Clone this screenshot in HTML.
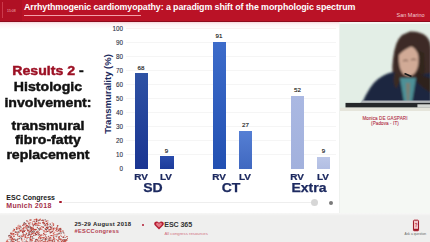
<!DOCTYPE html>
<html><head><meta charset="utf-8">
<style>
*{margin:0;padding:0;box-sizing:border-box}
html,body{width:430px;height:242px;overflow:hidden;background:#fff;font-family:"Liberation Sans",sans-serif}
.a{position:absolute;white-space:nowrap}
#hdr{position:absolute;left:0;top:0;width:430px;height:22px;background:#ba1226}
#hdrbot{position:absolute;left:0;top:20.5px;width:430px;height:1.5px;background:#8e0a1c}
#tbox{position:absolute;left:0;top:0;width:22px;height:20.5px;background:#b01024}
#title{left:24px;top:2px;font-size:8.9px;font-weight:bold;color:#fff;letter-spacing:-0.1px}
#uline{position:absolute;left:24px;top:15.4px;width:117px;height:1px;background:#f2a0a8}
#sm{left:396.5px;top:11.8px;font-size:5.5px;color:#f3cdd1}
#right{position:absolute;left:339px;top:22px;width:91px;height:191px;background:#f5f8f4;border-left:1px solid #eef1ee}
#bottom{position:absolute;left:0;top:212.5px;width:430px;height:29.5px;background:linear-gradient(#f7f7f6,#efefee 3px)}
.tl{-webkit-text-stroke:0.45px currentColor;font-size:13px;line-height:13px;transform:scaleX(1.086);transform-origin:48.4px 0;font-weight:bold;color:#111;text-align:center;width:96px;left:0}
.tick{font-size:6.3px;color:#2a2f45;-webkit-text-stroke:0.1px #2a2f45;text-align:right;width:20px;left:103px}
.grid{position:absolute;left:126px;width:210px;height:1px;background:#f5f5f5}
.bar{position:absolute}
.vl{font-size:6.2px;color:#222;-webkit-text-stroke:0.15px #222;text-align:center;width:20px}
.cat{font-size:8.7px;line-height:10px;font-weight:bold;color:#1d2a60;text-align:center;width:24px;transform:scaleX(1.15);-webkit-text-stroke:0.2px currentColor}
.grp{font-size:12.4px;line-height:14px;font-weight:bold;color:#1d2a60;text-align:center;width:50px;transform:scaleX(1.13);-webkit-text-stroke:0.25px currentColor}
</style></head><body>
<div class="a" style="left:0;top:22px;width:340px;height:7px;background:linear-gradient(#f6d6da,#fdf1f3 2px,rgba(255,255,255,0))"></div><div id="hdr"></div><div id="hdrbot"></div><div id="tbox"></div>
<div class="a" style="left:2px;top:2px;width:1px;height:16px;background:#cc3a4c"></div>
<div class="a" style="left:7px;top:9px;font-size:3.5px;color:#f1b5bc">15:08</div>
<div class="a" id="title">Arrhythmogenic cardiomyopathy: a paradigm shift of the morphologic spectrum</div>
<div id="uline"></div>
<div class="a" id="sm">San Marino</div>

<div id="right"></div>
<div id="bottom"></div>

<!-- left text -->
<div class="a tl" style="top:64px"><span style="color:#9c1024">Results 2</span> -</div>
<div class="a tl" style="top:80px">Histologic</div>
<div class="a tl" style="top:96px">involvement:</div>
<div class="a tl" style="top:118.5px">transmural</div>
<div class="a tl" style="top:133px">fibro-fatty</div>
<div class="a tl" style="top:147.5px">replacement</div>

<!-- chart -->
<div class="grid" style="top:28px;background:#fbf0f1"></div>
<div class="grid" style="top:42px"></div>
<div class="grid" style="top:56px"></div>
<div class="grid" style="top:70px"></div>
<div class="grid" style="top:84px"></div>
<div class="grid" style="top:98px"></div>
<div class="grid" style="top:112px"></div>
<div class="grid" style="top:126px"></div>
<div class="grid" style="top:140px"></div>
<div class="grid" style="top:154px"></div>
<div class="a tick" style="top:25.0px">100</div>
<div class="a tick" style="top:39.0px">90</div>
<div class="a tick" style="top:53.0px">80</div>
<div class="a tick" style="top:67.0px">70</div>
<div class="a tick" style="top:81.0px">60</div>
<div class="a tick" style="top:95.0px">50</div>
<div class="a tick" style="top:109.0px">40</div>
<div class="a tick" style="top:123.0px">30</div>
<div class="a tick" style="top:137.0px">20</div>
<div class="a tick" style="top:151.0px">10</div>
<div class="a tick" style="top:165.0px">0</div>
<div class="a" style="left:106.6px;top:94.3px;transform:translate(-50%,-50%) rotate(-90deg);font-size:9.5px;font-weight:bold;color:#1b2a5c">Transmurality (%)</div>

<div class="bar" style="left:135px;top:73.4px;width:13px;height:95.2px;background:linear-gradient(#2e52a4,#1a3592)"></div>
<div class="bar" style="left:160px;top:156px;width:13.5px;height:12.6px;background:linear-gradient(#2a4cac,#1c3b9a)"></div>
<div class="bar" style="left:213px;top:41.8px;width:13px;height:126.8px;background:linear-gradient(#3d6cca,#2250b2)"></div>
<div class="bar" style="left:239px;top:130.8px;width:13px;height:37.8px;background:linear-gradient(#557fd4,#4068c0)"></div>
<div class="bar" style="left:291px;top:95.8px;width:13px;height:72.8px;background:linear-gradient(#aab8e2,#a2b1dd)"></div>
<div class="bar" style="left:317px;top:156.8px;width:13.3px;height:11.8px;background:linear-gradient(#bcc7e8,#b2bee3)"></div>

<div class="a vl" style="left:131px;top:63.5px">68</div>
<div class="a vl" style="left:156.5px;top:146.5px">9</div>
<div class="a vl" style="left:209px;top:31.5px">91</div>
<div class="a vl" style="left:235.5px;top:120.5px">27</div>
<div class="a vl" style="left:287.5px;top:86px">52</div>
<div class="a vl" style="left:313.5px;top:147px">9</div>

<div class="a cat" style="left:129px;top:171.6px">RV</div>
<div class="a cat" style="left:154px;top:171.6px">LV</div>
<div class="a cat" style="left:207px;top:171.6px">RV</div>
<div class="a cat" style="left:233px;top:171.6px">LV</div>
<div class="a cat" style="left:285px;top:171.6px">RV</div>
<div class="a cat" style="left:311px;top:171.6px">LV</div>
<div class="a grp" style="left:127.5px;top:180.8px">SD</div>
<div class="a grp" style="left:206px;top:180.8px">CT</div>
<div class="a grp" style="left:284px;top:180.8px">Extra</div>

<!-- footer of slide -->
<div class="a" style="left:6.3px;top:194.2px;font-size:7px;font-weight:bold;color:#1a1a1a">ESC Congress</div>
<div class="a" style="left:6.3px;top:201.5px;font-size:7px;letter-spacing:0.3px;font-weight:bold;color:#a5304a">Munich 2018</div>
<div class="a" style="left:59.3px;top:200.9px;width:2.5px;height:2.5px;border-radius:50%;background:#a8182c"></div>
<div class="a" style="left:63px;top:202px;width:248px;height:1.3px;background:#eeeeee"></div>
<div class="a" style="left:311px;top:199px;width:7px;height:7px;border-radius:50%;background:#d6d6d6"></div>
<div class="a" style="left:328.5px;top:200.6px;width:4.4px;height:4.4px;border-radius:50%;background:#7a7a7a"></div>

<!-- speaker video -->
<svg class="a" style="left:340px;top:23px" width="90" height="88" viewBox="0 0 90 88">
<defs><filter id="bl" x="-20%" y="-20%" width="140%" height="140%"><feGaussianBlur stdDeviation="0.8"/></filter></defs>
<rect width="90" height="88" fill="#e3eee6"/>
<rect x="0" y="0" width="90" height="1" fill="#f3f5f2"/>
<g filter="url(#bl)">
<path d="M70 8.5 Q80 8 86 13 Q91 18 91 26 L91 80 L60 80 Q57 70 55 62 Q51 50 53 36 Q55 18 62 12 Z" fill="#3d2c25"/>
<path d="M59 30 Q61 23 69 23 Q77 24 78.5 34 Q79 46 74 51 Q69 55 63 51 Q58 45 59 30 Z" fill="#d1aa96"/>
<path d="M63 38 Q66 36 68 38 M71 37 Q74 35 76 37" stroke="#5a3a30" stroke-width="1" fill="none"/>
<path d="M57 22 Q65 12 80 15 Q77 20 70 24 Q63 27 58 33 Z" fill="#3d2c25"/>
<path d="M76 26 Q80 30 80 40 Q80 50 76 56 L84 60 Q86 45 84 30 Z" fill="#33251f"/>
<path d="M22 80 Q30 62 38 56 Q46 50 54 49 L60 55 L77 55 Q84 50 91 50 L91 80 Z" fill="#1e2840"/>
<path d="M55 49 Q52 58 56 66 L61 56 Z" fill="#3a2a24"/>
<path d="M60 55 L76 55 L72 79 L64 79 Z" fill="#4e9096"/>
<path d="M66 60 L70 60 L69 78 L67 78 Z" fill="#b0704e" opacity="0.5"/>
<path d="M77 48 Q84 54 91 55 L91 70 Q82 65 76 58 Z" fill="#2e231f"/>
</g>
<path d="M64.5 50.5 L71.5 53.5" stroke="#1a1a1a" stroke-width="1.8"/>
<path d="M20 79.9 L23 77.6 L90 77.6 L90 79.9 Z" fill="#b0b4b7"/>
<rect x="5.5" y="79.9" width="84.5" height="4.7" fill="#25282a"/>
<rect x="77.4" y="81.3" width="12.6" height="3.3" fill="#d3d6d2"/>
<rect x="0" y="84.6" width="90" height="3.4" fill="#e5e5db"/>
</svg>
<div class="a" style="left:340px;top:115.6px;width:90px;text-align:center;font-size:4.55px;letter-spacing:0.1px;color:#b33248;-webkit-text-stroke:0.1px #b33248">Monica DE GASPARI</div>
<div class="a" style="left:340px;top:120.6px;width:90px;text-align:center;font-size:4.55px;letter-spacing:0.1px;color:#b33248;-webkit-text-stroke:0.1px #b33248">(Padova - IT)</div>

<!-- bottom band -->
<svg class="a" style="left:0;top:213px" width="80" height="29" viewBox="0 213 80 29"><rect x="33.9" y="229.2" width="1.5" height="1.0" fill="#9a3030"/><rect x="37.8" y="231.3" width="1.0" height="0.8" fill="#d65a4c"/><rect x="13.4" y="228.6" width="0.8" height="1.0" fill="#7d6868"/><rect x="47.2" y="230.9" width="1.0" height="0.8" fill="#e08a80"/><rect x="62.1" y="230.4" width="1.5" height="1.0" fill="#d65a4c"/><rect x="59.6" y="228.1" width="1.2" height="1.0" fill="#c23a2e"/><rect x="30.8" y="229.0" width="0.8" height="1.0" fill="#d65a4c"/><rect x="8.6" y="235.2" width="1.5" height="0.8" fill="#7d6868"/><rect x="29.5" y="240.8" width="0.8" height="0.8" fill="#c23a2e"/><rect x="40.9" y="226.0" width="1.0" height="0.8" fill="#d65a4c"/><rect x="29.3" y="224.5" width="1.0" height="0.8" fill="#c23a2e"/><rect x="24.1" y="238.7" width="1.0" height="0.8" fill="#d65a4c"/><rect x="60.4" y="231.6" width="0.8" height="0.8" fill="#7d6868"/><rect x="20.0" y="230.4" width="1.2" height="1.0" fill="#c23a2e"/><rect x="42.8" y="237.1" width="1.0" height="1.0" fill="#c23a2e"/><rect x="14.2" y="239.3" width="1.0" height="0.8" fill="#c23a2e"/><rect x="45.5" y="229.1" width="1.5" height="1.0" fill="#9a3030"/><rect x="6.6" y="240.9" width="1.0" height="1.0" fill="#c23a2e"/><rect x="58.4" y="230.3" width="1.2" height="0.8" fill="#7d6868"/><rect x="35.6" y="232.0" width="0.8" height="1.0" fill="#c23a2e"/><rect x="64.4" y="234.7" width="0.8" height="1.0" fill="#d65a4c"/><rect x="22.6" y="228.4" width="1.0" height="0.8" fill="#d65a4c"/><rect x="62.8" y="241.4" width="1.0" height="0.8" fill="#7d6868"/><rect x="35.3" y="223.4" width="1.2" height="0.8" fill="#c23a2e"/><rect x="46.0" y="227.0" width="1.2" height="1.0" fill="#c23a2e"/><rect x="12.5" y="240.9" width="1.2" height="1.0" fill="#c23a2e"/><rect x="60.6" y="240.4" width="0.8" height="1.0" fill="#9a3030"/><rect x="45.2" y="224.1" width="0.8" height="0.8" fill="#c23a2e"/><rect x="46.2" y="241.8" width="1.5" height="1.0" fill="#d65a4c"/><rect x="52.5" y="229.8" width="1.5" height="1.0" fill="#e08a80"/><rect x="9.5" y="234.8" width="0.8" height="1.0" fill="#9a3030"/><rect x="35.7" y="219.7" width="0.8" height="1.0" fill="#e08a80"/><rect x="47.6" y="227.1" width="0.8" height="1.0" fill="#c23a2e"/><rect x="15.2" y="239.3" width="1.5" height="1.0" fill="#7d6868"/><rect x="25.6" y="232.3" width="1.0" height="1.0" fill="#e08a80"/><rect x="8.2" y="241.4" width="1.0" height="0.8" fill="#d65a4c"/><rect x="31.3" y="231.1" width="1.5" height="1.0" fill="#e08a80"/><rect x="59.6" y="231.1" width="1.2" height="0.8" fill="#e08a80"/><rect x="22.4" y="230.6" width="1.2" height="1.0" fill="#d65a4c"/><rect x="33.5" y="231.3" width="1.2" height="0.8" fill="#9a3030"/><rect x="17.2" y="226.8" width="1.0" height="0.8" fill="#e08a80"/><rect x="18.9" y="235.6" width="1.0" height="1.0" fill="#7d6868"/><rect x="31.1" y="238.9" width="1.5" height="0.8" fill="#d65a4c"/><rect x="17.0" y="238.7" width="0.8" height="1.0" fill="#9a3030"/><rect x="47.1" y="227.6" width="1.2" height="1.0" fill="#d65a4c"/><rect x="61.2" y="236.2" width="0.8" height="0.8" fill="#c23a2e"/><rect x="24.5" y="241.3" width="1.2" height="1.0" fill="#7d6868"/><rect x="40.3" y="235.3" width="1.5" height="0.8" fill="#c23a2e"/><rect x="49.3" y="239.6" width="1.5" height="0.8" fill="#7d6868"/><rect x="48.7" y="225.8" width="1.5" height="0.8" fill="#e08a80"/><rect x="33.0" y="229.2" width="1.0" height="1.0" fill="#d65a4c"/><rect x="29.2" y="237.5" width="1.0" height="1.0" fill="#7d6868"/><rect x="39.4" y="227.6" width="1.5" height="0.8" fill="#9a3030"/><rect x="6.9" y="239.6" width="0.8" height="1.0" fill="#c23a2e"/><rect x="15.0" y="240.0" width="1.5" height="1.0" fill="#7d6868"/><rect x="20.3" y="227.3" width="1.2" height="1.0" fill="#7d6868"/><rect x="65.8" y="239.7" width="1.2" height="0.8" fill="#c23a2e"/><rect x="44.8" y="239.8" width="1.0" height="0.8" fill="#c23a2e"/><rect x="22.7" y="234.0" width="1.0" height="1.0" fill="#c23a2e"/><rect x="37.7" y="220.3" width="1.0" height="1.0" fill="#c23a2e"/><rect x="45.8" y="236.9" width="1.0" height="0.8" fill="#7d6868"/><rect x="39.2" y="219.3" width="1.0" height="0.8" fill="#c23a2e"/><rect x="52.9" y="236.5" width="1.0" height="1.0" fill="#9a3030"/><rect x="10.4" y="238.8" width="1.0" height="0.8" fill="#c23a2e"/><rect x="10.4" y="237.1" width="1.5" height="0.8" fill="#c23a2e"/><rect x="45.4" y="236.2" width="0.8" height="0.8" fill="#9a3030"/><rect x="27.6" y="236.8" width="1.2" height="0.8" fill="#e08a80"/><rect x="45.9" y="223.0" width="1.0" height="0.8" fill="#9a3030"/><rect x="44.5" y="239.2" width="1.5" height="0.8" fill="#c23a2e"/><rect x="48.4" y="229.8" width="1.0" height="1.0" fill="#c23a2e"/><rect x="32.1" y="223.3" width="1.0" height="1.0" fill="#c23a2e"/><rect x="50.3" y="237.5" width="1.0" height="1.0" fill="#d65a4c"/><rect x="52.8" y="224.8" width="1.0" height="0.8" fill="#c23a2e"/><rect x="9.6" y="237.4" width="1.5" height="0.8" fill="#9a3030"/><rect x="21.0" y="239.4" width="1.0" height="1.0" fill="#c23a2e"/><rect x="25.8" y="228.6" width="1.2" height="1.0" fill="#e08a80"/><rect x="30.8" y="234.0" width="0.8" height="1.0" fill="#c23a2e"/><rect x="10.7" y="238.8" width="0.8" height="0.8" fill="#c23a2e"/><rect x="18.3" y="224.8" width="1.0" height="0.8" fill="#d65a4c"/><rect x="50.3" y="235.1" width="0.8" height="0.8" fill="#9a3030"/><rect x="37.5" y="241.0" width="0.8" height="1.0" fill="#e08a80"/><rect x="36.7" y="230.7" width="0.8" height="1.0" fill="#7d6868"/><rect x="31.8" y="228.3" width="1.2" height="1.0" fill="#9a3030"/><rect x="35.9" y="220.8" width="1.2" height="1.0" fill="#c23a2e"/><rect x="55.0" y="230.0" width="1.0" height="1.0" fill="#e08a80"/><rect x="29.7" y="239.0" width="1.5" height="0.8" fill="#9a3030"/><rect x="51.7" y="222.3" width="1.0" height="1.0" fill="#e08a80"/><rect x="20.6" y="234.9" width="0.8" height="0.8" fill="#7d6868"/><rect x="51.7" y="226.6" width="1.0" height="0.8" fill="#c23a2e"/><rect x="43.7" y="231.5" width="1.5" height="1.0" fill="#e08a80"/><rect x="39.0" y="241.9" width="1.2" height="0.8" fill="#c23a2e"/><rect x="11.5" y="238.9" width="1.2" height="1.0" fill="#c23a2e"/><rect x="49.2" y="229.4" width="1.0" height="1.0" fill="#e08a80"/><rect x="32.1" y="231.1" width="0.8" height="0.8" fill="#9a3030"/><rect x="48.6" y="229.0" width="1.2" height="1.0" fill="#9a3030"/><rect x="53.2" y="237.3" width="0.8" height="0.8" fill="#d65a4c"/><rect x="58.3" y="237.3" width="1.0" height="1.0" fill="#d65a4c"/><rect x="21.0" y="236.5" width="1.2" height="0.8" fill="#9a3030"/><rect x="40.2" y="234.6" width="1.0" height="1.0" fill="#9a3030"/><rect x="42.3" y="226.4" width="1.2" height="0.8" fill="#9a3030"/><rect x="32.5" y="229.5" width="1.5" height="1.0" fill="#e08a80"/><rect x="49.9" y="227.3" width="1.2" height="1.0" fill="#7d6868"/><rect x="18.4" y="232.1" width="1.2" height="1.0" fill="#7d6868"/><rect x="25.3" y="225.8" width="1.2" height="1.0" fill="#9a3030"/><rect x="18.6" y="241.1" width="1.0" height="0.8" fill="#d65a4c"/><rect x="28.1" y="223.5" width="1.5" height="1.0" fill="#e08a80"/><rect x="52.8" y="223.7" width="1.5" height="0.8" fill="#e08a80"/><rect x="54.1" y="238.5" width="1.2" height="0.8" fill="#c23a2e"/><rect x="42.4" y="221.9" width="0.8" height="1.0" fill="#c23a2e"/><rect x="52.6" y="239.1" width="0.8" height="0.8" fill="#9a3030"/><rect x="13.5" y="234.6" width="1.5" height="0.8" fill="#e08a80"/><rect x="36.3" y="239.3" width="1.2" height="1.0" fill="#d65a4c"/><rect x="26.3" y="241.1" width="1.0" height="1.0" fill="#9a3030"/><rect x="54.0" y="241.6" width="1.2" height="0.8" fill="#e08a80"/><rect x="59.0" y="238.8" width="0.8" height="1.0" fill="#e08a80"/><rect x="56.9" y="225.2" width="1.5" height="0.8" fill="#c23a2e"/><rect x="14.7" y="231.4" width="1.0" height="1.0" fill="#c23a2e"/><rect x="32.0" y="221.5" width="0.8" height="1.0" fill="#d65a4c"/><rect x="11.6" y="231.8" width="1.0" height="0.8" fill="#e08a80"/><rect x="42.8" y="230.4" width="1.5" height="0.8" fill="#d65a4c"/><rect x="64.1" y="240.2" width="1.5" height="1.0" fill="#9a3030"/><rect x="30.6" y="240.7" width="0.8" height="1.0" fill="#7d6868"/><rect x="30.4" y="219.3" width="1.0" height="1.0" fill="#7d6868"/><rect x="56.5" y="235.5" width="0.8" height="0.8" fill="#7d6868"/><rect x="61.7" y="239.3" width="1.5" height="0.8" fill="#e08a80"/><rect x="21.1" y="238.2" width="1.0" height="1.0" fill="#9a3030"/><rect x="44.6" y="228.3" width="1.5" height="1.0" fill="#c23a2e"/><rect x="53.4" y="228.8" width="1.2" height="0.8" fill="#e08a80"/><rect x="31.5" y="239.6" width="0.8" height="1.0" fill="#c23a2e"/><rect x="39.9" y="228.2" width="1.0" height="1.0" fill="#d65a4c"/><rect x="30.8" y="229.1" width="1.5" height="0.8" fill="#d65a4c"/><rect x="30.0" y="226.4" width="0.8" height="1.0" fill="#c23a2e"/><rect x="28.9" y="233.6" width="1.0" height="1.0" fill="#9a3030"/><rect x="17.6" y="230.9" width="1.2" height="1.0" fill="#7d6868"/><rect x="53.5" y="240.7" width="1.5" height="0.8" fill="#c23a2e"/><rect x="17.2" y="234.2" width="1.2" height="1.0" fill="#7d6868"/><rect x="41.1" y="234.0" width="1.2" height="1.0" fill="#e08a80"/><rect x="10.2" y="232.7" width="1.0" height="0.8" fill="#c23a2e"/><rect x="6.1" y="241.6" width="1.5" height="1.0" fill="#e08a80"/><rect x="26.5" y="236.9" width="1.0" height="0.8" fill="#e08a80"/><rect x="25.9" y="225.0" width="0.8" height="1.0" fill="#9a3030"/><rect x="25.0" y="235.9" width="1.0" height="0.8" fill="#c23a2e"/><rect x="33.1" y="229.2" width="1.0" height="1.0" fill="#e08a80"/><rect x="58.5" y="230.7" width="1.0" height="1.0" fill="#e08a80"/><rect x="27.3" y="227.5" width="1.0" height="0.8" fill="#7d6868"/><rect x="38.1" y="233.7" width="1.0" height="0.8" fill="#9a3030"/><rect x="20.1" y="229.7" width="1.2" height="1.0" fill="#c23a2e"/><rect x="41.6" y="228.8" width="0.8" height="1.0" fill="#c23a2e"/><rect x="53.2" y="239.0" width="1.2" height="0.8" fill="#c23a2e"/><rect x="41.9" y="237.1" width="1.0" height="0.8" fill="#d65a4c"/><rect x="30.6" y="235.7" width="1.0" height="1.0" fill="#e08a80"/><rect x="59.9" y="239.3" width="0.8" height="0.8" fill="#c23a2e"/><rect x="29.5" y="229.5" width="1.0" height="1.0" fill="#9a3030"/><rect x="21.4" y="229.5" width="1.2" height="0.8" fill="#9a3030"/><rect x="13.6" y="240.8" width="0.8" height="1.0" fill="#d65a4c"/><rect x="63.2" y="239.5" width="1.5" height="1.0" fill="#9a3030"/><rect x="32.6" y="229.4" width="1.2" height="1.0" fill="#d65a4c"/><rect x="23.5" y="230.9" width="1.5" height="1.0" fill="#9a3030"/><rect x="37.2" y="224.5" width="0.8" height="1.0" fill="#e08a80"/><rect x="38.7" y="219.9" width="1.2" height="1.0" fill="#7d6868"/><rect x="62.1" y="242.0" width="1.2" height="1.0" fill="#9a3030"/><rect x="14.8" y="231.8" width="1.5" height="0.8" fill="#7d6868"/><rect x="10.5" y="236.0" width="0.8" height="1.0" fill="#c23a2e"/><rect x="63.1" y="236.6" width="1.5" height="0.8" fill="#d65a4c"/><rect x="24.3" y="227.5" width="1.5" height="0.8" fill="#c23a2e"/><rect x="60.7" y="233.1" width="0.8" height="0.8" fill="#d65a4c"/><rect x="60.7" y="239.1" width="0.8" height="0.8" fill="#9a3030"/><rect x="50.1" y="229.2" width="1.0" height="0.8" fill="#7d6868"/><rect x="24.2" y="236.7" width="1.2" height="1.0" fill="#e08a80"/><rect x="12.9" y="233.2" width="1.5" height="1.0" fill="#c23a2e"/><rect x="47.9" y="235.9" width="1.2" height="0.8" fill="#9a3030"/><rect x="22.3" y="231.6" width="0.8" height="1.0" fill="#7d6868"/><rect x="33.1" y="228.3" width="0.8" height="0.8" fill="#9a3030"/><rect x="22.8" y="234.9" width="1.0" height="0.8" fill="#c23a2e"/><rect x="63.2" y="241.6" width="0.8" height="1.0" fill="#7d6868"/><rect x="8.2" y="235.5" width="1.2" height="1.0" fill="#9a3030"/><rect x="55.7" y="228.0" width="1.0" height="0.8" fill="#c23a2e"/><rect x="32.7" y="232.4" width="1.2" height="0.8" fill="#c23a2e"/><rect x="39.9" y="237.7" width="1.5" height="1.0" fill="#c23a2e"/><rect x="43.4" y="233.7" width="1.5" height="0.8" fill="#d65a4c"/><rect x="44.1" y="230.6" width="1.5" height="1.0" fill="#e08a80"/><rect x="46.2" y="229.8" width="1.0" height="0.8" fill="#c23a2e"/><rect x="32.1" y="233.2" width="1.2" height="1.0" fill="#c23a2e"/><rect x="49.6" y="237.1" width="1.5" height="0.8" fill="#d65a4c"/><rect x="34.8" y="233.3" width="0.8" height="0.8" fill="#9a3030"/><rect x="54.2" y="241.6" width="1.0" height="1.0" fill="#9a3030"/><rect x="31.1" y="228.2" width="0.8" height="1.0" fill="#9a3030"/><rect x="35.1" y="240.1" width="0.8" height="0.8" fill="#c23a2e"/><rect x="11.8" y="237.8" width="1.5" height="1.0" fill="#c23a2e"/><rect x="66.5" y="239.8" width="1.0" height="0.8" fill="#c23a2e"/><rect x="42.6" y="241.8" width="1.2" height="0.8" fill="#9a3030"/><rect x="29.9" y="237.4" width="1.5" height="1.0" fill="#e08a80"/><rect x="16.1" y="228.9" width="1.0" height="1.0" fill="#c23a2e"/><rect x="18.2" y="226.6" width="1.2" height="1.0" fill="#d65a4c"/><rect x="49.6" y="223.5" width="1.2" height="0.8" fill="#9a3030"/><rect x="52.9" y="227.9" width="1.0" height="1.0" fill="#c23a2e"/><rect x="19.9" y="237.3" width="0.8" height="0.8" fill="#7d6868"/><rect x="20.9" y="238.5" width="0.8" height="1.0" fill="#d65a4c"/><rect x="14.0" y="230.3" width="0.8" height="0.8" fill="#d65a4c"/><rect x="32.0" y="228.8" width="1.0" height="1.0" fill="#d65a4c"/><rect x="33.8" y="223.9" width="1.0" height="1.0" fill="#9a3030"/><rect x="38.1" y="223.3" width="0.8" height="1.0" fill="#d65a4c"/><rect x="60.0" y="234.7" width="1.5" height="0.8" fill="#e08a80"/><rect x="48.3" y="239.7" width="1.0" height="1.0" fill="#9a3030"/><rect x="67.0" y="238.2" width="1.0" height="1.0" fill="#c23a2e"/><rect x="32.2" y="224.4" width="0.8" height="1.0" fill="#d65a4c"/><rect x="25.7" y="227.4" width="1.2" height="0.8" fill="#c23a2e"/><rect x="30.6" y="226.8" width="1.0" height="1.0" fill="#9a3030"/><rect x="26.6" y="225.2" width="1.0" height="1.0" fill="#9a3030"/><rect x="50.3" y="229.0" width="0.8" height="1.0" fill="#c23a2e"/><rect x="64.0" y="239.5" width="1.2" height="0.8" fill="#d65a4c"/><rect x="51.5" y="238.7" width="0.8" height="0.8" fill="#c23a2e"/><rect x="25.4" y="223.8" width="1.2" height="1.0" fill="#e08a80"/><rect x="62.5" y="231.6" width="1.5" height="1.0" fill="#7d6868"/><rect x="27.9" y="229.7" width="1.0" height="0.8" fill="#9a3030"/><rect x="45.0" y="224.9" width="1.5" height="0.8" fill="#c23a2e"/><rect x="58.8" y="238.5" width="1.5" height="1.0" fill="#c23a2e"/><rect x="24.4" y="223.5" width="0.8" height="0.8" fill="#9a3030"/><rect x="18.5" y="228.1" width="1.5" height="0.8" fill="#c23a2e"/><rect x="36.6" y="231.9" width="0.8" height="1.0" fill="#c23a2e"/><rect x="26.0" y="233.0" width="1.2" height="1.0" fill="#d65a4c"/><rect x="28.2" y="232.4" width="1.5" height="0.8" fill="#9a3030"/><rect x="27.9" y="233.5" width="1.0" height="0.8" fill="#7d6868"/><rect x="58.0" y="238.7" width="1.2" height="0.8" fill="#7d6868"/><rect x="37.8" y="232.7" width="0.8" height="0.8" fill="#9a3030"/><rect x="31.2" y="227.0" width="1.2" height="1.0" fill="#d65a4c"/><rect x="52.8" y="233.1" width="1.2" height="1.0" fill="#d65a4c"/><rect x="12.3" y="234.5" width="1.2" height="0.8" fill="#c23a2e"/><rect x="28.9" y="232.4" width="1.0" height="0.8" fill="#7d6868"/><rect x="35.1" y="233.1" width="1.0" height="1.0" fill="#9a3030"/><rect x="31.7" y="231.3" width="1.5" height="1.0" fill="#7d6868"/><rect x="52.3" y="241.8" width="0.8" height="1.0" fill="#d65a4c"/><rect x="35.9" y="223.8" width="1.2" height="1.0" fill="#e08a80"/><rect x="29.9" y="230.9" width="1.0" height="1.0" fill="#9a3030"/><rect x="59.0" y="229.1" width="1.2" height="1.0" fill="#d65a4c"/><rect x="14.0" y="238.6" width="1.2" height="0.8" fill="#c23a2e"/><rect x="30.4" y="222.3" width="0.8" height="1.0" fill="#c23a2e"/><rect x="40.4" y="229.2" width="1.0" height="0.8" fill="#c23a2e"/><rect x="54.2" y="232.4" width="0.8" height="0.8" fill="#d65a4c"/><rect x="13.2" y="235.9" width="1.5" height="1.0" fill="#c23a2e"/><rect x="27.2" y="229.2" width="0.8" height="0.8" fill="#9a3030"/><rect x="47.4" y="231.1" width="1.2" height="0.8" fill="#7d6868"/><rect x="61.1" y="241.8" width="1.5" height="0.8" fill="#c23a2e"/><rect x="27.7" y="234.9" width="1.2" height="0.8" fill="#9a3030"/><rect x="38.8" y="236.5" width="1.5" height="1.0" fill="#d65a4c"/><rect x="39.1" y="232.3" width="0.8" height="1.0" fill="#d65a4c"/><rect x="42.1" y="219.6" width="1.5" height="1.0" fill="#9a3030"/><rect x="22.3" y="241.8" width="1.5" height="1.0" fill="#d65a4c"/><rect x="43.2" y="220.7" width="1.0" height="0.8" fill="#c23a2e"/><rect x="53.1" y="228.8" width="1.0" height="0.8" fill="#d65a4c"/><rect x="10.3" y="240.6" width="1.0" height="0.8" fill="#7d6868"/><rect x="25.2" y="234.9" width="0.8" height="1.0" fill="#d65a4c"/><rect x="30.9" y="233.5" width="1.0" height="1.0" fill="#c23a2e"/><rect x="29.7" y="239.7" width="1.0" height="1.0" fill="#9a3030"/><rect x="47.7" y="239.4" width="0.8" height="0.8" fill="#9a3030"/><rect x="26.7" y="225.7" width="1.5" height="0.8" fill="#c23a2e"/><rect x="52.8" y="234.6" width="1.5" height="1.0" fill="#d65a4c"/><rect x="29.4" y="219.7" width="0.8" height="0.8" fill="#9a3030"/><rect x="33.8" y="221.2" width="0.8" height="0.8" fill="#7d6868"/><rect x="24.7" y="234.4" width="1.5" height="0.8" fill="#7d6868"/><rect x="12.4" y="241.7" width="1.5" height="0.8" fill="#c23a2e"/><rect x="59.5" y="231.8" width="1.0" height="0.8" fill="#e08a80"/><rect x="37.8" y="241.8" width="0.8" height="0.8" fill="#7d6868"/><rect x="57.3" y="226.2" width="0.8" height="1.0" fill="#c23a2e"/><rect x="22.5" y="231.7" width="0.8" height="0.8" fill="#9a3030"/><rect x="56.0" y="227.2" width="1.0" height="0.8" fill="#e08a80"/><rect x="60.4" y="235.4" width="0.8" height="0.8" fill="#e08a80"/><rect x="65.3" y="240.7" width="1.0" height="1.0" fill="#c23a2e"/><rect x="60.0" y="230.9" width="1.5" height="0.8" fill="#c23a2e"/><rect x="46.8" y="228.4" width="1.2" height="0.8" fill="#9a3030"/><rect x="57.9" y="233.3" width="1.2" height="0.8" fill="#e08a80"/><rect x="49.8" y="226.5" width="1.0" height="1.0" fill="#c23a2e"/><rect x="52.6" y="223.4" width="1.2" height="1.0" fill="#c23a2e"/><rect x="28.7" y="230.8" width="1.2" height="1.0" fill="#c23a2e"/><rect x="37.9" y="225.1" width="1.5" height="0.8" fill="#c23a2e"/><rect x="60.4" y="232.6" width="1.5" height="0.8" fill="#7d6868"/><rect x="29.6" y="234.6" width="1.0" height="1.0" fill="#9a3030"/><rect x="28.2" y="222.7" width="1.5" height="1.0" fill="#c23a2e"/><rect x="49.9" y="232.5" width="1.0" height="0.8" fill="#d65a4c"/><rect x="12.7" y="239.0" width="1.2" height="1.0" fill="#d65a4c"/><rect x="26.5" y="236.8" width="0.8" height="0.8" fill="#d65a4c"/><rect x="17.8" y="235.9" width="0.8" height="1.0" fill="#c23a2e"/><rect x="43.0" y="233.2" width="0.8" height="0.8" fill="#9a3030"/><rect x="27.9" y="226.5" width="1.2" height="1.0" fill="#9a3030"/><rect x="44.0" y="241.1" width="0.8" height="1.0" fill="#d65a4c"/><rect x="19.2" y="228.7" width="0.8" height="0.8" fill="#c23a2e"/><rect x="34.5" y="224.6" width="1.0" height="0.8" fill="#9a3030"/><rect x="58.8" y="228.0" width="0.8" height="0.8" fill="#c23a2e"/><rect x="55.9" y="239.3" width="1.5" height="0.8" fill="#d65a4c"/><rect x="28.2" y="237.1" width="0.8" height="0.8" fill="#d65a4c"/><rect x="39.4" y="228.5" width="0.8" height="0.8" fill="#c23a2e"/><rect x="23.4" y="235.5" width="1.0" height="1.0" fill="#9a3030"/><rect x="13.1" y="239.1" width="1.0" height="0.8" fill="#7d6868"/><rect x="38.6" y="224.8" width="0.8" height="1.0" fill="#e08a80"/><rect x="19.1" y="236.1" width="0.8" height="1.0" fill="#c23a2e"/><rect x="36.3" y="232.0" width="1.0" height="0.8" fill="#d65a4c"/><rect x="23.8" y="234.4" width="1.2" height="0.8" fill="#d65a4c"/><rect x="32.3" y="226.8" width="1.2" height="1.0" fill="#d65a4c"/><rect x="29.2" y="222.4" width="1.0" height="0.8" fill="#e08a80"/><rect x="38.8" y="234.3" width="1.2" height="1.0" fill="#9a3030"/><rect x="10.9" y="232.9" width="1.2" height="0.8" fill="#d65a4c"/><rect x="43.5" y="223.7" width="1.2" height="0.8" fill="#9a3030"/><rect x="42.9" y="222.1" width="1.5" height="0.8" fill="#9a3030"/><rect x="21.8" y="236.1" width="1.5" height="1.0" fill="#d65a4c"/><rect x="22.9" y="232.7" width="0.8" height="1.0" fill="#7d6868"/><rect x="24.9" y="236.8" width="1.2" height="1.0" fill="#c23a2e"/><rect x="45.2" y="229.0" width="1.2" height="0.8" fill="#9a3030"/><rect x="40.1" y="236.9" width="1.5" height="1.0" fill="#d65a4c"/><rect x="45.3" y="239.5" width="0.8" height="0.8" fill="#e08a80"/><rect x="33.1" y="234.8" width="1.5" height="1.0" fill="#9a3030"/><rect x="56.9" y="225.9" width="0.8" height="0.8" fill="#7d6868"/><rect x="27.5" y="237.1" width="0.8" height="0.8" fill="#d65a4c"/><rect x="49.6" y="231.9" width="0.8" height="0.8" fill="#c23a2e"/><rect x="22.1" y="224.8" width="1.5" height="1.0" fill="#c23a2e"/><rect x="50.4" y="227.3" width="1.5" height="1.0" fill="#9a3030"/><rect x="35.8" y="228.9" width="1.0" height="1.0" fill="#c23a2e"/><rect x="27.1" y="230.2" width="1.5" height="1.0" fill="#9a3030"/><rect x="42.5" y="226.9" width="1.5" height="1.0" fill="#c23a2e"/><rect x="36.3" y="231.3" width="1.2" height="1.0" fill="#9a3030"/><rect x="51.3" y="225.5" width="0.8" height="0.8" fill="#7d6868"/><rect x="36.1" y="219.7" width="0.8" height="1.0" fill="#9a3030"/><rect x="13.9" y="241.8" width="1.2" height="0.8" fill="#9a3030"/><rect x="17.2" y="228.5" width="1.2" height="0.8" fill="#c23a2e"/><rect x="56.0" y="236.4" width="1.2" height="0.8" fill="#c23a2e"/><rect x="36.0" y="220.9" width="1.2" height="1.0" fill="#7d6868"/><rect x="58.2" y="228.8" width="1.0" height="0.8" fill="#9a3030"/><rect x="52.4" y="228.5" width="1.2" height="1.0" fill="#c23a2e"/><rect x="33.9" y="223.7" width="1.0" height="1.0" fill="#9a3030"/><rect x="8.7" y="239.2" width="0.8" height="0.8" fill="#c23a2e"/><rect x="28.2" y="223.3" width="1.0" height="0.8" fill="#7d6868"/><rect x="63.5" y="241.3" width="0.8" height="1.0" fill="#9a3030"/><rect x="16.2" y="228.3" width="1.2" height="1.0" fill="#7d6868"/><rect x="66.0" y="239.1" width="0.8" height="0.8" fill="#7d6868"/><rect x="39.7" y="238.3" width="1.0" height="1.0" fill="#7d6868"/><rect x="43.0" y="232.9" width="1.2" height="0.8" fill="#c23a2e"/><rect x="38.3" y="240.8" width="0.8" height="0.8" fill="#c23a2e"/><rect x="61.4" y="240.8" width="0.8" height="1.0" fill="#c23a2e"/><rect x="58.8" y="233.0" width="0.8" height="0.8" fill="#d65a4c"/><rect x="30.1" y="219.7" width="1.2" height="1.0" fill="#c23a2e"/><rect x="29.9" y="239.1" width="1.0" height="1.0" fill="#c23a2e"/><rect x="28.4" y="234.0" width="1.2" height="1.0" fill="#9a3030"/><rect x="33.8" y="219.4" width="1.2" height="0.8" fill="#c23a2e"/><rect x="47.2" y="220.5" width="1.2" height="0.8" fill="#c23a2e"/><rect x="25.8" y="234.1" width="0.8" height="0.8" fill="#9a3030"/><rect x="9.2" y="235.1" width="1.0" height="1.0" fill="#c23a2e"/><rect x="31.3" y="241.7" width="1.2" height="1.0" fill="#c23a2e"/><rect x="8.8" y="237.2" width="1.0" height="1.0" fill="#e08a80"/><rect x="22.9" y="230.2" width="0.8" height="1.0" fill="#7d6868"/><rect x="6.2" y="240.7" width="1.5" height="0.8" fill="#c23a2e"/><rect x="17.6" y="238.5" width="1.0" height="1.0" fill="#d65a4c"/><rect x="51.2" y="240.4" width="1.0" height="0.8" fill="#c23a2e"/><rect x="48.8" y="238.6" width="1.5" height="1.0" fill="#d65a4c"/><rect x="38.8" y="228.7" width="1.5" height="1.0" fill="#7d6868"/><rect x="54.2" y="239.8" width="1.0" height="0.8" fill="#7d6868"/><rect x="35.9" y="238.9" width="1.5" height="1.0" fill="#9a3030"/><rect x="16.6" y="240.4" width="0.8" height="1.0" fill="#e08a80"/><rect x="56.7" y="227.5" width="0.8" height="1.0" fill="#c23a2e"/><rect x="60.0" y="229.3" width="1.5" height="1.0" fill="#9a3030"/><rect x="24.9" y="223.3" width="1.5" height="1.0" fill="#9a3030"/><rect x="34.4" y="222.6" width="1.5" height="0.8" fill="#9a3030"/><rect x="45.0" y="238.8" width="1.0" height="1.0" fill="#9a3030"/><rect x="15.3" y="234.0" width="1.0" height="1.0" fill="#c23a2e"/><rect x="10.4" y="232.9" width="1.2" height="1.0" fill="#9a3030"/><rect x="36.8" y="239.8" width="1.5" height="0.8" fill="#9a3030"/><rect x="30.5" y="227.4" width="1.5" height="0.8" fill="#c23a2e"/><rect x="36.8" y="227.0" width="1.0" height="0.8" fill="#c23a2e"/><rect x="58.7" y="236.1" width="1.2" height="0.8" fill="#7d6868"/><rect x="37.3" y="225.4" width="0.8" height="0.8" fill="#9a3030"/><rect x="35.8" y="221.4" width="1.2" height="0.8" fill="#9a3030"/><rect x="49.5" y="225.9" width="1.2" height="0.8" fill="#9a3030"/><rect x="56.6" y="233.6" width="1.2" height="0.8" fill="#c23a2e"/><rect x="35.4" y="233.7" width="0.8" height="0.8" fill="#7d6868"/><rect x="47.4" y="226.7" width="1.5" height="0.8" fill="#7d6868"/><rect x="23.0" y="224.3" width="1.2" height="0.8" fill="#9a3030"/><rect x="50.7" y="231.8" width="0.8" height="1.0" fill="#7d6868"/><rect x="54.7" y="235.8" width="0.8" height="1.0" fill="#7d6868"/><rect x="46.2" y="227.3" width="1.5" height="1.0" fill="#c23a2e"/><rect x="34.8" y="233.0" width="0.8" height="1.0" fill="#9a3030"/><rect x="65.2" y="239.4" width="1.2" height="1.0" fill="#7d6868"/><rect x="22.4" y="228.2" width="1.5" height="0.8" fill="#c23a2e"/><rect x="35.2" y="234.6" width="1.0" height="1.0" fill="#c23a2e"/><rect x="42.3" y="220.0" width="1.2" height="1.0" fill="#c23a2e"/><rect x="38.8" y="240.5" width="1.5" height="0.8" fill="#d65a4c"/><rect x="19.5" y="226.7" width="0.8" height="0.8" fill="#d65a4c"/><rect x="35.4" y="225.1" width="1.2" height="1.0" fill="#7d6868"/><rect x="13.9" y="229.0" width="1.2" height="1.0" fill="#c23a2e"/><rect x="44.6" y="238.2" width="1.5" height="1.0" fill="#9a3030"/><rect x="53.1" y="224.7" width="1.0" height="1.0" fill="#c23a2e"/><rect x="29.8" y="226.6" width="0.8" height="0.8" fill="#7d6868"/><rect x="42.8" y="222.2" width="0.8" height="1.0" fill="#c23a2e"/><rect x="18.6" y="238.1" width="1.5" height="1.0" fill="#7d6868"/><rect x="17.7" y="232.2" width="1.0" height="1.0" fill="#d65a4c"/><rect x="61.6" y="231.0" width="0.8" height="1.0" fill="#e08a80"/><rect x="45.3" y="229.0" width="1.5" height="1.0" fill="#7d6868"/><rect x="19.1" y="230.5" width="1.5" height="1.0" fill="#c23a2e"/><rect x="23.7" y="230.4" width="0.8" height="1.0" fill="#9a3030"/><rect x="29.8" y="237.4" width="1.2" height="1.0" fill="#c23a2e"/><rect x="44.5" y="219.4" width="1.5" height="1.0" fill="#7d6868"/><rect x="17.0" y="239.5" width="0.8" height="1.0" fill="#9a3030"/><rect x="58.2" y="237.3" width="1.5" height="0.8" fill="#9a3030"/><rect x="51.0" y="235.1" width="1.2" height="1.0" fill="#c23a2e"/><rect x="50.5" y="229.3" width="1.0" height="0.8" fill="#c23a2e"/><rect x="52.0" y="240.6" width="1.2" height="1.0" fill="#9a3030"/><rect x="45.3" y="238.9" width="1.5" height="1.0" fill="#7d6868"/><rect x="34.5" y="229.2" width="1.5" height="0.8" fill="#7d6868"/><rect x="27.3" y="235.0" width="0.8" height="0.8" fill="#c23a2e"/><rect x="49.7" y="233.0" width="1.0" height="1.0" fill="#e08a80"/><rect x="13.7" y="229.8" width="0.8" height="1.0" fill="#d65a4c"/><rect x="30.7" y="235.9" width="1.0" height="0.8" fill="#c23a2e"/><rect x="56.4" y="234.4" width="1.2" height="0.8" fill="#9a3030"/><rect x="58.0" y="237.9" width="1.0" height="1.0" fill="#e08a80"/><rect x="26.2" y="238.5" width="1.0" height="1.0" fill="#e08a80"/><rect x="37.3" y="223.4" width="1.0" height="1.0" fill="#c23a2e"/><rect x="33.0" y="225.5" width="1.0" height="0.8" fill="#9a3030"/><rect x="43.9" y="223.1" width="1.2" height="0.8" fill="#9a3030"/><rect x="48.1" y="237.7" width="0.8" height="0.8" fill="#c23a2e"/><rect x="22.0" y="232.3" width="1.2" height="0.8" fill="#9a3030"/><rect x="23.1" y="229.3" width="1.2" height="0.8" fill="#d65a4c"/><rect x="24.5" y="230.2" width="1.2" height="0.8" fill="#c23a2e"/><rect x="37.8" y="222.0" width="1.5" height="0.8" fill="#d65a4c"/><rect x="29.7" y="227.6" width="1.5" height="1.0" fill="#9a3030"/><rect x="39.2" y="235.9" width="1.0" height="1.0" fill="#c23a2e"/><rect x="56.6" y="231.0" width="1.2" height="0.8" fill="#d65a4c"/><rect x="34.5" y="223.8" width="1.5" height="0.8" fill="#d65a4c"/><rect x="40.5" y="238.5" width="1.0" height="0.8" fill="#c23a2e"/><rect x="39.3" y="222.7" width="1.5" height="1.0" fill="#c23a2e"/><rect x="23.1" y="223.3" width="0.8" height="0.8" fill="#c23a2e"/><rect x="41.1" y="240.2" width="1.5" height="0.8" fill="#9a3030"/><rect x="63.4" y="232.6" width="1.0" height="1.0" fill="#9a3030"/><rect x="57.6" y="241.7" width="0.8" height="0.8" fill="#c23a2e"/><rect x="8.8" y="235.1" width="1.2" height="0.8" fill="#7d6868"/><rect x="46.0" y="220.6" width="1.0" height="0.8" fill="#c23a2e"/><rect x="35.3" y="240.8" width="1.2" height="1.0" fill="#7d6868"/><rect x="49.2" y="238.1" width="1.2" height="1.0" fill="#7d6868"/><rect x="47.3" y="224.2" width="1.0" height="1.0" fill="#9a3030"/><rect x="22.4" y="239.6" width="0.8" height="0.8" fill="#c23a2e"/><rect x="49.9" y="224.0" width="0.8" height="1.0" fill="#7d6868"/><rect x="31.1" y="230.1" width="0.8" height="1.0" fill="#c23a2e"/><rect x="5.8" y="241.5" width="1.2" height="1.0" fill="#d65a4c"/><rect x="46.5" y="231.2" width="1.5" height="0.8" fill="#9a3030"/><rect x="29.3" y="219.5" width="1.5" height="1.0" fill="#e08a80"/><rect x="54.2" y="233.9" width="0.8" height="1.0" fill="#e08a80"/><rect x="59.9" y="230.4" width="0.8" height="0.8" fill="#c23a2e"/><rect x="58.5" y="236.0" width="1.5" height="0.8" fill="#d65a4c"/><rect x="57.2" y="240.1" width="1.5" height="1.0" fill="#c23a2e"/><rect x="22.9" y="232.3" width="1.0" height="1.0" fill="#e08a80"/><rect x="62.2" y="239.8" width="0.8" height="0.8" fill="#c23a2e"/><rect x="52.4" y="231.6" width="1.5" height="1.0" fill="#e08a80"/><rect x="11.4" y="241.4" width="1.5" height="1.0" fill="#9a3030"/><rect x="48.7" y="229.7" width="1.2" height="0.8" fill="#e08a80"/><rect x="47.3" y="240.8" width="1.0" height="1.0" fill="#d65a4c"/><rect x="45.5" y="221.1" width="1.2" height="1.0" fill="#c23a2e"/><rect x="33.5" y="237.9" width="0.8" height="1.0" fill="#c23a2e"/><rect x="37.4" y="230.6" width="1.2" height="0.8" fill="#d65a4c"/><rect x="44.1" y="234.3" width="0.8" height="0.8" fill="#9a3030"/><rect x="45.4" y="231.6" width="1.5" height="0.8" fill="#c23a2e"/><rect x="35.8" y="234.0" width="1.5" height="1.0" fill="#c23a2e"/><rect x="41.1" y="220.0" width="1.5" height="0.8" fill="#7d6868"/><rect x="47.3" y="240.8" width="1.0" height="0.8" fill="#9a3030"/><rect x="31.8" y="237.5" width="1.0" height="1.0" fill="#7d6868"/><rect x="58.4" y="232.8" width="1.5" height="1.0" fill="#7d6868"/><rect x="42.7" y="237.7" width="1.0" height="1.0" fill="#c23a2e"/><rect x="43.8" y="236.9" width="1.2" height="0.8" fill="#d65a4c"/><rect x="46.9" y="223.8" width="1.5" height="0.8" fill="#7d6868"/><rect x="48.7" y="241.3" width="1.2" height="1.0" fill="#e08a80"/><rect x="45.8" y="226.6" width="0.8" height="1.0" fill="#9a3030"/><rect x="21.4" y="230.4" width="1.0" height="1.0" fill="#c23a2e"/><rect x="12.7" y="230.6" width="0.8" height="1.0" fill="#c23a2e"/><rect x="44.2" y="225.2" width="1.2" height="1.0" fill="#7d6868"/><rect x="49.2" y="240.0" width="1.5" height="1.0" fill="#c23a2e"/><rect x="11.8" y="233.3" width="0.8" height="0.8" fill="#d65a4c"/><rect x="46.9" y="222.0" width="1.5" height="0.8" fill="#e08a80"/><rect x="11.5" y="238.4" width="0.8" height="0.8" fill="#c23a2e"/><rect x="33.4" y="230.5" width="0.8" height="1.0" fill="#7d6868"/><rect x="35.0" y="239.1" width="1.0" height="0.8" fill="#7d6868"/><rect x="15.8" y="227.3" width="1.2" height="1.0" fill="#c23a2e"/><rect x="65.0" y="240.5" width="1.0" height="1.0" fill="#c23a2e"/><rect x="31.5" y="240.0" width="0.8" height="0.8" fill="#c23a2e"/><rect x="40.1" y="240.6" width="1.2" height="0.8" fill="#c23a2e"/><rect x="38.1" y="238.4" width="1.2" height="0.8" fill="#d65a4c"/><rect x="31.7" y="233.2" width="1.0" height="1.0" fill="#c23a2e"/><rect x="37.6" y="219.7" width="1.0" height="1.0" fill="#9a3030"/><rect x="46.5" y="223.6" width="1.2" height="0.8" fill="#c23a2e"/><rect x="12.5" y="233.4" width="1.5" height="1.0" fill="#c23a2e"/><rect x="20.5" y="226.5" width="1.2" height="0.8" fill="#e08a80"/><rect x="29.5" y="231.6" width="1.2" height="1.0" fill="#d65a4c"/><rect x="10.6" y="236.2" width="1.2" height="1.0" fill="#9a3030"/><rect x="50.2" y="241.4" width="0.8" height="1.0" fill="#e08a80"/><rect x="66.2" y="236.2" width="1.5" height="1.0" fill="#c23a2e"/><rect x="35.7" y="219.1" width="1.2" height="1.0" fill="#c23a2e"/><rect x="56.3" y="230.5" width="0.8" height="0.8" fill="#d65a4c"/><rect x="43.5" y="222.3" width="0.8" height="1.0" fill="#d65a4c"/><rect x="45.1" y="235.0" width="0.8" height="0.8" fill="#d65a4c"/><rect x="47.3" y="227.6" width="1.0" height="1.0" fill="#9a3030"/><rect x="23.7" y="222.2" width="1.2" height="1.0" fill="#7d6868"/><rect x="54.0" y="231.7" width="1.5" height="0.8" fill="#e08a80"/><rect x="39.0" y="225.0" width="1.5" height="0.8" fill="#e08a80"/><rect x="53.2" y="238.0" width="1.2" height="0.8" fill="#d65a4c"/><rect x="34.7" y="229.4" width="1.2" height="1.0" fill="#c23a2e"/><rect x="26.1" y="225.1" width="1.5" height="1.0" fill="#c23a2e"/><rect x="21.6" y="235.3" width="1.0" height="1.0" fill="#d65a4c"/><rect x="47.2" y="225.4" width="0.8" height="1.0" fill="#c23a2e"/><rect x="34.7" y="228.9" width="1.0" height="1.0" fill="#c23a2e"/><rect x="58.5" y="241.3" width="1.0" height="1.0" fill="#7d6868"/><rect x="63.4" y="239.4" width="1.5" height="0.8" fill="#7d6868"/><rect x="59.9" y="228.6" width="1.2" height="1.0" fill="#7d6868"/><rect x="56.4" y="227.7" width="1.2" height="0.8" fill="#c23a2e"/><rect x="38.7" y="229.3" width="0.8" height="0.8" fill="#7d6868"/><rect x="49.3" y="230.9" width="1.2" height="0.8" fill="#c23a2e"/><rect x="26.5" y="225.9" width="1.0" height="0.8" fill="#e08a80"/><rect x="54.7" y="234.4" width="1.2" height="0.8" fill="#d65a4c"/><rect x="27.4" y="226.7" width="1.2" height="0.8" fill="#7d6868"/><rect x="43.7" y="240.8" width="0.8" height="0.8" fill="#7d6868"/><rect x="25.7" y="240.0" width="1.0" height="0.8" fill="#d65a4c"/><rect x="42.8" y="222.3" width="0.8" height="1.0" fill="#7d6868"/><rect x="31.6" y="240.3" width="1.5" height="0.8" fill="#d65a4c"/><rect x="30.6" y="230.3" width="1.5" height="0.8" fill="#9a3030"/><rect x="28.4" y="226.2" width="0.8" height="1.0" fill="#9a3030"/><rect x="19.7" y="236.3" width="0.8" height="0.8" fill="#d65a4c"/><rect x="33.3" y="228.2" width="0.8" height="1.0" fill="#c23a2e"/><rect x="55.8" y="229.1" width="1.5" height="0.8" fill="#d65a4c"/><rect x="53.6" y="227.6" width="1.0" height="1.0" fill="#9a3030"/><rect x="39.2" y="229.8" width="0.8" height="0.8" fill="#9a3030"/><rect x="42.3" y="239.0" width="1.2" height="0.8" fill="#7d6868"/><rect x="45.8" y="236.8" width="1.5" height="0.8" fill="#d65a4c"/><rect x="49.7" y="235.5" width="0.8" height="1.0" fill="#e08a80"/><rect x="62.4" y="240.1" width="0.8" height="1.0" fill="#c23a2e"/><rect x="40.5" y="227.5" width="1.0" height="1.0" fill="#d65a4c"/><rect x="38.0" y="228.2" width="1.0" height="1.0" fill="#7d6868"/><rect x="65.5" y="239.3" width="1.0" height="0.8" fill="#c23a2e"/><rect x="50.4" y="232.0" width="1.2" height="1.0" fill="#9a3030"/><rect x="12.5" y="240.0" width="0.8" height="0.8" fill="#c23a2e"/><rect x="33.3" y="221.1" width="1.5" height="0.8" fill="#e08a80"/><rect x="54.6" y="227.8" width="1.2" height="1.0" fill="#e08a80"/><rect x="31.1" y="232.0" width="1.2" height="0.8" fill="#7d6868"/><rect x="37.8" y="234.8" width="0.8" height="1.0" fill="#7d6868"/><rect x="29.0" y="233.8" width="1.5" height="1.0" fill="#7d6868"/><rect x="58.3" y="233.8" width="1.0" height="0.8" fill="#7d6868"/><rect x="64.7" y="237.2" width="1.0" height="0.8" fill="#7d6868"/><rect x="58.1" y="230.1" width="1.0" height="0.8" fill="#9a3030"/><rect x="27.0" y="241.7" width="0.8" height="1.0" fill="#9a3030"/><rect x="57.3" y="240.8" width="1.5" height="1.0" fill="#e08a80"/><rect x="43.7" y="230.5" width="1.0" height="1.0" fill="#d65a4c"/><rect x="45.2" y="241.6" width="1.0" height="0.8" fill="#e08a80"/><rect x="27.2" y="241.8" width="1.5" height="1.0" fill="#c23a2e"/><rect x="24.2" y="224.5" width="0.8" height="0.8" fill="#9a3030"/><rect x="31.9" y="236.3" width="1.2" height="0.8" fill="#9a3030"/><rect x="23.9" y="222.4" width="1.2" height="1.0" fill="#7d6868"/><rect x="23.2" y="227.2" width="1.2" height="1.0" fill="#c23a2e"/><rect x="27.1" y="221.3" width="1.0" height="1.0" fill="#e08a80"/><rect x="53.4" y="237.4" width="1.0" height="0.8" fill="#9a3030"/><rect x="21.7" y="241.4" width="1.5" height="0.8" fill="#e08a80"/><rect x="32.2" y="237.6" width="1.0" height="1.0" fill="#7d6868"/><rect x="27.6" y="230.4" width="0.8" height="1.0" fill="#c23a2e"/><rect x="51.3" y="228.3" width="0.8" height="0.8" fill="#c23a2e"/><rect x="62.5" y="236.7" width="1.5" height="1.0" fill="#9a3030"/><rect x="33.6" y="220.8" width="0.8" height="1.0" fill="#9a3030"/><rect x="11.7" y="233.9" width="1.5" height="1.0" fill="#e08a80"/><rect x="38.0" y="237.2" width="1.2" height="1.0" fill="#d65a4c"/><rect x="45.1" y="240.7" width="1.2" height="1.0" fill="#c23a2e"/><rect x="31.7" y="223.7" width="1.2" height="1.0" fill="#e08a80"/><rect x="49.4" y="237.2" width="1.0" height="0.8" fill="#c23a2e"/><rect x="37.2" y="227.4" width="0.8" height="0.8" fill="#9a3030"/><rect x="17.4" y="225.6" width="1.0" height="0.8" fill="#d65a4c"/><rect x="10.6" y="234.4" width="1.5" height="0.8" fill="#c23a2e"/><rect x="30.0" y="236.0" width="0.8" height="1.0" fill="#9a3030"/><rect x="51.2" y="240.5" width="1.5" height="0.8" fill="#7d6868"/><rect x="12.2" y="237.7" width="1.0" height="0.8" fill="#9a3030"/><rect x="26.7" y="238.0" width="0.8" height="0.8" fill="#7d6868"/><rect x="60.0" y="238.6" width="1.5" height="0.8" fill="#c23a2e"/><rect x="51.9" y="240.3" width="1.0" height="0.8" fill="#c23a2e"/><rect x="35.1" y="223.0" width="1.5" height="1.0" fill="#c23a2e"/><rect x="12.8" y="230.2" width="1.0" height="1.0" fill="#d65a4c"/><rect x="30.4" y="228.1" width="1.0" height="1.0" fill="#7d6868"/><rect x="16.4" y="227.3" width="1.0" height="1.0" fill="#d65a4c"/><rect x="35.2" y="241.6" width="1.2" height="1.0" fill="#d65a4c"/><rect x="61.2" y="241.1" width="1.0" height="1.0" fill="#c23a2e"/><rect x="40.4" y="241.6" width="1.0" height="0.8" fill="#d65a4c"/><rect x="35.7" y="219.0" width="0.8" height="1.0" fill="#d65a4c"/><rect x="56.1" y="229.5" width="1.5" height="0.8" fill="#9a3030"/><rect x="37.6" y="232.0" width="0.8" height="0.8" fill="#c23a2e"/><rect x="33.4" y="232.7" width="1.2" height="0.8" fill="#c23a2e"/><rect x="59.8" y="227.9" width="1.5" height="0.8" fill="#c23a2e"/><rect x="46.7" y="223.2" width="1.2" height="0.8" fill="#c23a2e"/><rect x="17.2" y="241.4" width="1.2" height="1.0" fill="#c23a2e"/><rect x="17.0" y="234.6" width="1.0" height="1.0" fill="#c23a2e"/><rect x="52.4" y="235.4" width="1.0" height="0.8" fill="#c23a2e"/><rect x="16.6" y="232.5" width="1.5" height="1.0" fill="#c23a2e"/><rect x="45.4" y="234.0" width="1.0" height="0.8" fill="#9a3030"/><rect x="42.4" y="222.4" width="1.5" height="1.0" fill="#c23a2e"/><rect x="46.4" y="238.1" width="1.0" height="0.8" fill="#c23a2e"/><rect x="62.8" y="236.8" width="0.8" height="0.8" fill="#9a3030"/><rect x="40.5" y="219.8" width="0.8" height="1.0" fill="#d65a4c"/><rect x="11.0" y="240.2" width="0.8" height="1.0" fill="#9a3030"/><rect x="15.3" y="231.6" width="1.5" height="1.0" fill="#9a3030"/><rect x="23.5" y="226.5" width="1.0" height="1.0" fill="#e08a80"/><rect x="42.6" y="241.3" width="1.2" height="0.8" fill="#c23a2e"/><rect x="28.6" y="225.5" width="1.0" height="1.0" fill="#7d6868"/><rect x="51.4" y="230.9" width="1.5" height="1.0" fill="#9a3030"/><rect x="45.9" y="228.9" width="1.2" height="0.8" fill="#7d6868"/><rect x="35.7" y="234.1" width="1.0" height="1.0" fill="#9a3030"/><rect x="38.1" y="241.9" width="0.8" height="1.0" fill="#c23a2e"/><rect x="33.6" y="231.5" width="1.5" height="0.8" fill="#7d6868"/><rect x="28.4" y="221.3" width="0.8" height="1.0" fill="#e08a80"/><rect x="26.5" y="227.9" width="0.8" height="0.8" fill="#9a3030"/><rect x="19.3" y="225.7" width="1.5" height="1.0" fill="#9a3030"/><rect x="21.8" y="231.0" width="1.5" height="0.8" fill="#c23a2e"/><rect x="26.1" y="220.4" width="1.5" height="1.0" fill="#9a3030"/><rect x="20.9" y="237.9" width="1.2" height="1.0" fill="#7d6868"/><rect x="32.9" y="224.6" width="1.0" height="1.0" fill="#9a3030"/><rect x="10.1" y="241.6" width="0.8" height="0.8" fill="#7d6868"/><rect x="63.9" y="241.1" width="1.0" height="1.0" fill="#c23a2e"/><rect x="34.4" y="240.9" width="1.2" height="0.8" fill="#9a3030"/><rect x="29.8" y="226.7" width="1.0" height="0.8" fill="#7d6868"/><rect x="28.6" y="226.9" width="0.8" height="1.0" fill="#7d6868"/><rect x="35.9" y="218.8" width="1.5" height="1.0" fill="#c23a2e"/><rect x="37.4" y="232.9" width="1.0" height="0.8" fill="#9a3030"/><rect x="42.7" y="234.8" width="0.8" height="1.0" fill="#c23a2e"/><rect x="35.8" y="218.7" width="1.0" height="1.0" fill="#c23a2e"/><rect x="39.8" y="218.7" width="1.2" height="1.0" fill="#d65a4c"/></svg>
<div class="a" style="left:74.5px;top:221.3px;font-size:5.9px;letter-spacing:0.32px;font-weight:bold;color:#1d1d1d">25-29 August 2018</div>
<div class="a" style="left:74.5px;top:228.2px;font-size:5.7px;letter-spacing:0.3px;font-weight:bold;color:#b34050">#ESCCongress</div>
<div class="a" style="left:141.5px;top:223.5px;width:2.2px;height:2.2px;border-radius:50%;background:#b01a30"></div>
<svg class="a" style="left:154px;top:221px" width="10" height="9" viewBox="0 0 10 9"><path d="M5 8.6 L1 4.6 Q-0.6 2.6 1 1 Q3 -0.5 5 1.8 Q7 -0.5 9 1 Q10.6 2.6 9 4.6 Z" fill="#b51e33"/><path d="M5 6.5 L2.4 4 Q1.6 2.8 2.6 2 Q3.8 1.3 5 3 Q6.2 1.3 7.4 2 Q8.4 2.8 7.6 4 Z" fill="#e57b88"/></svg>
<div class="a" style="left:164.3px;top:221.4px;font-size:7.1px;font-weight:bold;letter-spacing:-0.1px;color:#333">ESC 365</div>
<div class="a" style="left:164.4px;top:231px;font-size:4.3px;color:#d0707e">All congress resources</div>
<svg class="a" style="left:411.5px;top:218.5px" width="8" height="13" viewBox="0 0 8 13"><rect x="0.2" y="0.2" width="7.6" height="12.6" rx="2" fill="#f6d4d6" opacity="0.7"/><rect x="1.5" y="1.2" width="5" height="10.5" rx="0.9" fill="#f4c6ca" stroke="#9e1c2a" stroke-width="1"/><rect x="1.5" y="9.8" width="5" height="1.9" fill="#9e1c2a"/><text x="4" y="7.6" font-size="4.5" font-weight="bold" text-anchor="middle" fill="#b02a3a" font-family="Liberation Sans">?</text></svg>
<div class="a" style="left:404.5px;top:232.3px;font-size:3.3px;color:#666">Ask a question</div>
</body></html>
